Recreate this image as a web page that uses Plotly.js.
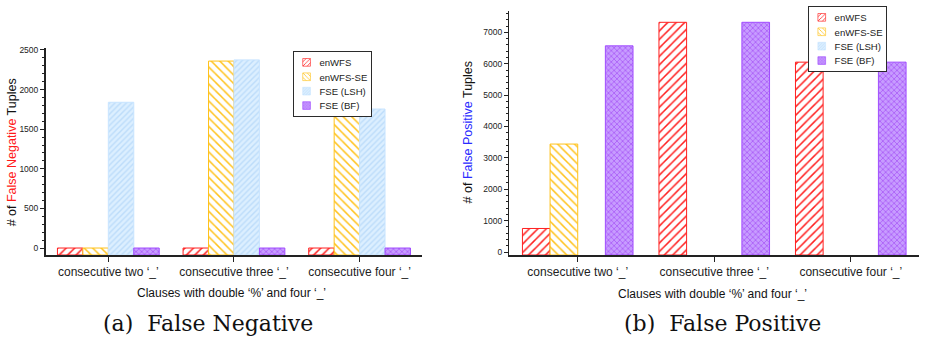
<!DOCTYPE html>
<html>
<head>
<meta charset="utf-8">
<script src="https://cdn.plot.ly/plotly-3.0.1.min.js"></script>
<style>html,body{margin:0;padding:0;background:#fff;}#chart{width:932px;height:341px;}</style>
</head>
<body>
<div id="chart"></div>
<script>
// ---- data ----
const categories = ["consecutive two \u2018_\u2019", "consecutive three \u2018_\u2019", "consecutive four \u2018_\u2019"];
const seriesNames = ["enWFS", "enWFS-SE", "FSE (LSH)", "FSE (BF)"];
// (a) False Negative
const fnEnWFS   = [0, 0, 0];
const fnEnWFSSE = [0, 2360, 1740];
const fnLSH     = [1840, 2375, 1755];
const fnBF      = [0, 0, 0];
// (b) False Positive
const fpEnWFS   = [750, 7320, 6050];
const fpEnWFSSE = [3440, null, null];
const fpLSH     = [null, null, null];
const fpBF      = [6570, 7320, 6050];

// ---- styles ----
const styles = [
  {color:"#ffffff", line:"#ff1f1f", pattern:{shape:"/", fgcolor:"#ff1f1f", bgcolor:"#ffffff", size:6, solidity:0.25, fillmode:"replace"}},
  {color:"#ffffff", line:"#ffc21a", pattern:{shape:"\\", fgcolor:"#ffc21a", bgcolor:"#ffffff", size:6, solidity:0.25, fillmode:"replace"}},
  {color:"#d3eaff", line:"#c8e4ff", pattern:{shape:"/", fgcolor:"#bcdcfa", bgcolor:"#dcefff", size:4, solidity:0.35, fillmode:"replace"}},
  {color:"#b57aff", line:"#a04cff", pattern:{shape:"x", fgcolor:"#a24df5", bgcolor:"#c79cff", size:4, solidity:0.3, fillmode:"replace"}}
];
const fnMin = -88, fnMax = 2525;
const fpMin = -95, fpMax = 7680;

function mk(vals, i, xa, ya, base, leg) {
  const s = styles[i];
  return {
    type: "bar", name: seriesNames[i], x: categories,
    y: vals.map(v => v === null ? null : v - base), base: base,
    xaxis: xa, yaxis: ya, legend: leg, showlegend: true, hoverinfo: "skip",
    marker: {color: s.color, line: {color: s.line, width: 1}, pattern: s.pattern}
  };
}
const fnSeries = [fnEnWFS, fnEnWFSSE, fnLSH, fnBF];
const fpSeries = [fpEnWFS, fpEnWFSSE, fpLSH, fpBF];
const traces = [];
fnSeries.forEach((v, i) => traces.push(mk(v, i, "x", "y", fnMin, "legend")));
fpSeries.forEach((v, i) => traces.push(mk(v, i, "x2", "y2", fpMin, "legend2")));

const SANS = "Liberation Sans, Arial, sans-serif";
const tickFont = {family: SANS, size: 8.5, color: "#222"};
const catFont = {family: SANS, size: 12, color: "#222"};
const H = 341, W = 932;
const yDomA = [1 - 255 / H, 1 - 48 / H];
const yDomB = [1 - 255 / H, 1 - 11 / H];
const xDomA = [46 / W, 427 / W];
const xDomB = [515 / W, 929 / W];

function xa(dom, anchor) {
  return {domain: dom, anchor: anchor, type: "category", showline: true, linecolor: "#222", linewidth: 1.5,
    ticks: "outside", ticklen: 5, tickcolor: "#222", tickfont: catFont, showgrid: false, zeroline: false, fixedrange: true};
}
function xm(dom, anchor, over) {
  return {domain: dom, anchor: anchor, overlaying: over, type: "linear", range: [-0.5, 2.5], tickvals: [0.5, 1.5],
    ticks: "outside", ticklen: 3, tickcolor: "#222", showticklabels: false, showgrid: false, zeroline: false, showline: false};
}
function ya(dom, anchor, range, dtick, minor) {
  return {domain: dom, anchor: anchor, range: range, dtick: dtick, tick0: 0, showline: true, linecolor: "#222", linewidth: 1.5,
    ticks: "outside", ticklen: 4, tickcolor: "#222", tickfont: tickFont, showgrid: false, zeroline: false,
    minor: {dtick: minor, tick0: 0, ticks: "outside", ticklen: 2, tickcolor: "#222"}, fixedrange: true};
}

const legBase = {bgcolor: "#fff", bordercolor: "#222", borderwidth: 1.5,
  font: {family: SANS, size: 15, color: "#222"},
  xanchor: "left", yanchor: "top", tracegroupgap: 0, itemwidth: 30, traceorder: "normal"};

const ann = (x, y, text, size, extra) => Object.assign({xref: "paper", yref: "paper", x: x, y: y, text: text, showarrow: false,
  xanchor: "center", yanchor: "middle", font: {family: SANS, size: size, color: "#111"}}, extra || {});
const SERIF = {family: "DejaVu Serif, Liberation Serif, serif", size: 22, color: "#111"};

const layout = {
  width: W, height: H, margin: {l: 0, r: 0, t: 0, b: 0}, paper_bgcolor: "#fff", plot_bgcolor: "rgba(0,0,0,0)",
  barmode: "group", bargap: 0.19, bargroupgap: 0, showlegend: true,
  xaxis: xa(xDomA, "y"), yaxis: ya(yDomA, "x", [fnMin, fnMax], 500, 100),
  xaxis2: xa(xDomB, "y2"), yaxis2: ya(yDomB, "x2", [fpMin, fpMax], 1000, 200),
  xaxis3: xm(xDomA, "y", "x"), xaxis4: xm(xDomB, "y2", "x2"),
  legend: Object.assign({}, legBase, {x: 296 / W, y: 1 - 51 / H}),
  legend2: Object.assign({}, legBase, {x: 817 / W, y: 1 - 6 / H}),
  annotations: [
    ann(12 / W, 1 - 152.5 / H, "# of <span style='color:#ff1a1a'>False Negative</span> Tuples", 12.5, {textangle: -90}),
    ann(473 / W, 1 - 132.5 / H, "# of <span style='color:#2b2bff'>False Positive</span> Tuples", 12.5, {textangle: -90}),
    ann(234 / W, 1 - 293 / H, "Clauses with double \u2018%\u2019 and four \u2018_\u2019", 12),
    ann(720 / W, 1 - 294 / H, "Clauses with double \u2018%\u2019 and four \u2018_\u2019", 12),
    ann(210 / W, 1 - 323 / H, "(a)\u00a0 False Negative", 22, {font: SERIF}),
    ann(730 / W, 1 - 323 / H, "(b)\u00a0 False Positive", 22, {font: SERIF})
  ]
};

// compact legends: Plotly enforces a minimum row height, so shrink the legend boxes
// to the reference's tighter proportions.
const LEGEND_SCALE = 0.64;
Plotly.newPlot("chart", traces, layout, {displayModeBar: false, staticPlot: true}).then(gd => {
  ["legend", "legend2"].forEach(id => {
    const g = gd.querySelector("g." + id);
    if (!g) return;
    const t = g.getAttribute("transform") || "";
    g.setAttribute("transform", t + " scale(" + LEGEND_SCALE + ")");
  });
});
</script>
</body>
</html>
